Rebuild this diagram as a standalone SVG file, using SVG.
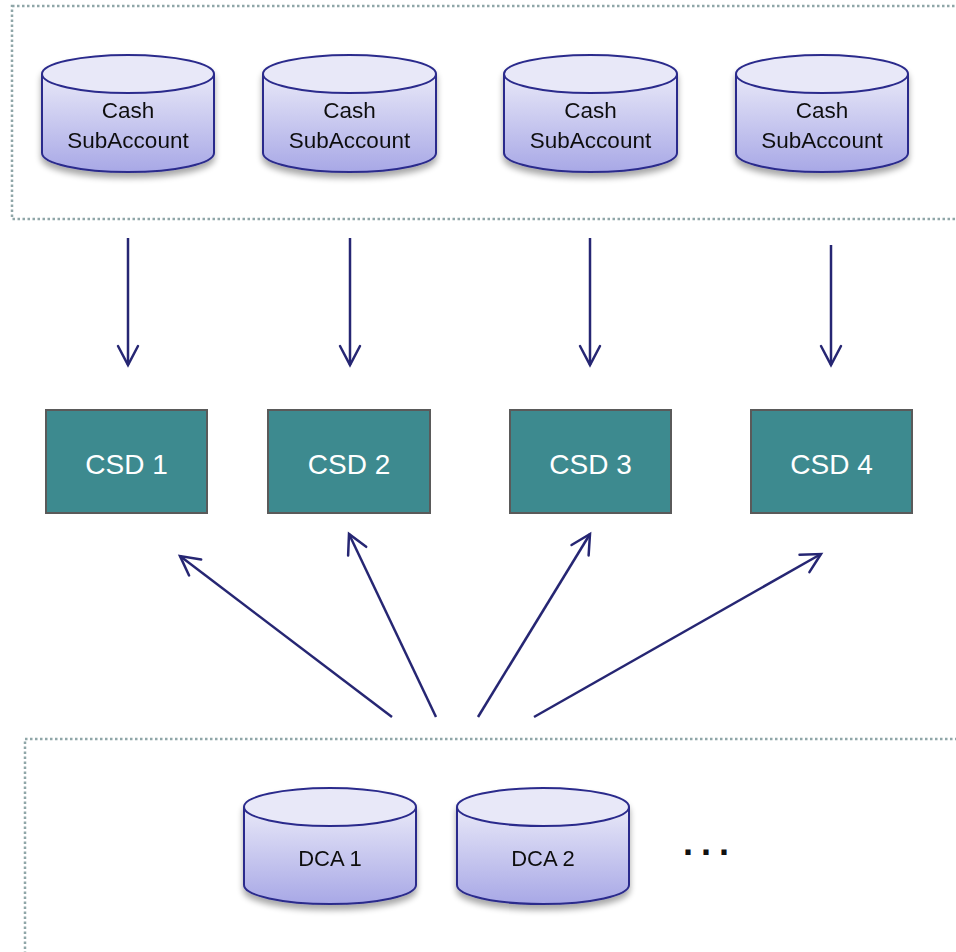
<svg xmlns="http://www.w3.org/2000/svg" width="956" height="952" viewBox="0 0 956 952">
<defs>
<linearGradient id="cylGrad" x1="0" y1="0" x2="0" y2="1">
<stop offset="0" stop-color="#e8e8f8"/>
<stop offset="1" stop-color="#a8a8e6"/>
</linearGradient>
<filter id="shadow" x="-10%" y="-10%" width="120%" height="130%">
<feGaussianBlur in="SourceAlpha" stdDeviation="3"/>
<feOffset dx="0" dy="5" result="b"/>
<feComponentTransfer><feFuncA type="linear" slope="0.35"/></feComponentTransfer>
<feMerge><feMergeNode/><feMergeNode in="SourceGraphic"/></feMerge>
</filter>
<marker id="arr" markerUnits="userSpaceOnUse" markerWidth="30" markerHeight="30" viewBox="-25 -15 30 30" refX="0" refY="0" orient="auto">
<path d="M-19,-10 L0,0 L-19,10" fill="none" stroke="#262673" stroke-width="2.5" stroke-linecap="round" stroke-linejoin="miter"/>
</marker>
</defs>
<style>
.frame{fill:none;stroke:#8fa6a8;stroke-width:2.5;stroke-dasharray:2.5 2.5}
.cyl{fill:url(#cylGrad);stroke:#2b2b8c;stroke-width:2}
.cyltop{fill:#e8e8f8;stroke:#2b2b8c;stroke-width:2}
.cyltxt{font-family:"Liberation Sans",Arial,sans-serif;font-size:22.5px;fill:#111;text-anchor:middle}
.dcatxt{font-family:"Liberation Sans",Arial,sans-serif;font-size:22px;fill:#111;text-anchor:middle}
.csd{fill:#3d8a8f;stroke:#5a5a5a;stroke-width:2}
.csdtxt{font-family:"Liberation Sans",Arial,sans-serif;font-size:28px;fill:#ffffff;text-anchor:middle}
.conn{stroke:#262673;stroke-width:2.5;fill:none;marker-end:url(#arr)}
</style>
<rect x="0" y="0" width="956" height="952" fill="#ffffff"/>
<rect class="frame" x="12" y="6" width="960" height="213"/>
<rect class="frame" x="25" y="739" width="960" height="240"/>

<g id="cash1" filter="url(#shadow)">
<path class="cyl" d="M42,74 V153 A86,19 0 0 0 214,153 V74"/>
<ellipse class="cyltop" cx="128" cy="74" rx="86" ry="19"/>
<text class="cyltxt" x="128" y="118">Cash</text>
<text class="cyltxt" x="128" y="148">SubAccount</text>
</g>
<g id="cash2" filter="url(#shadow)">
<path class="cyl" d="M263,74 V153 A86.5,19 0 0 0 436,153 V74"/>
<ellipse class="cyltop" cx="349.5" cy="74" rx="86.5" ry="19"/>
<text class="cyltxt" x="349.5" y="118">Cash</text>
<text class="cyltxt" x="349.5" y="148">SubAccount</text>
</g>
<g id="cash3" filter="url(#shadow)">
<path class="cyl" d="M504,74 V153 A86.5,19 0 0 0 677,153 V74"/>
<ellipse class="cyltop" cx="590.5" cy="74" rx="86.5" ry="19"/>
<text class="cyltxt" x="590.5" y="118">Cash</text>
<text class="cyltxt" x="590.5" y="148">SubAccount</text>
</g>
<g id="cash4" filter="url(#shadow)">
<path class="cyl" d="M736,74 V153 A86,19 0 0 0 908,153 V74"/>
<ellipse class="cyltop" cx="822" cy="74" rx="86" ry="19"/>
<text class="cyltxt" x="822" y="118">Cash</text>
<text class="cyltxt" x="822" y="148">SubAccount</text>
</g>

<g id="csd1"><rect class="csd" x="46" y="410" width="161" height="103"/><text class="csdtxt" x="126.5" y="474">CSD 1</text></g>
<g id="csd2"><rect class="csd" x="268" y="410" width="162" height="103"/><text class="csdtxt" x="349" y="474">CSD 2</text></g>
<g id="csd3"><rect class="csd" x="510" y="410" width="161" height="103"/><text class="csdtxt" x="590.5" y="474">CSD 3</text></g>
<g id="csd4"><rect class="csd" x="751" y="410" width="161" height="103"/><text class="csdtxt" x="831.5" y="474">CSD 4</text></g>

<g id="dca1" filter="url(#shadow)">
<path class="cyl" d="M244,807 V885 A86,19 0 0 0 416,885 V807"/>
<ellipse class="cyltop" cx="330" cy="807" rx="86" ry="19"/>
<text class="dcatxt" x="330" y="866">DCA 1</text>
</g>
<g id="dca2" filter="url(#shadow)">
<path class="cyl" d="M457,807 V885 A86,19 0 0 0 629,885 V807"/>
<ellipse class="cyltop" cx="543" cy="807" rx="86" ry="19"/>
<text class="dcatxt" x="543" y="866">DCA 2</text>
</g>
<g id="ellipsis">
<text x="683" y="855" font-family="Liberation Sans,Arial,sans-serif" font-size="36" font-weight="bold" letter-spacing="8" fill="#111">...</text>
</g>

<g id="connectors">
<line class="conn" x1="128" y1="238" x2="128" y2="365"/>
<line class="conn" x1="350" y1="238" x2="350" y2="365"/>
<line class="conn" x1="590" y1="238" x2="590" y2="365"/>
<line class="conn" x1="831" y1="245" x2="831" y2="365"/>
<line class="conn" x1="392" y1="717" x2="180" y2="556"/>
<line class="conn" x1="436" y1="717" x2="349" y2="534"/>
<line class="conn" x1="478" y1="717" x2="590" y2="534"/>
<line class="conn" x1="534" y1="717" x2="821" y2="554"/>
</g>
</svg>
